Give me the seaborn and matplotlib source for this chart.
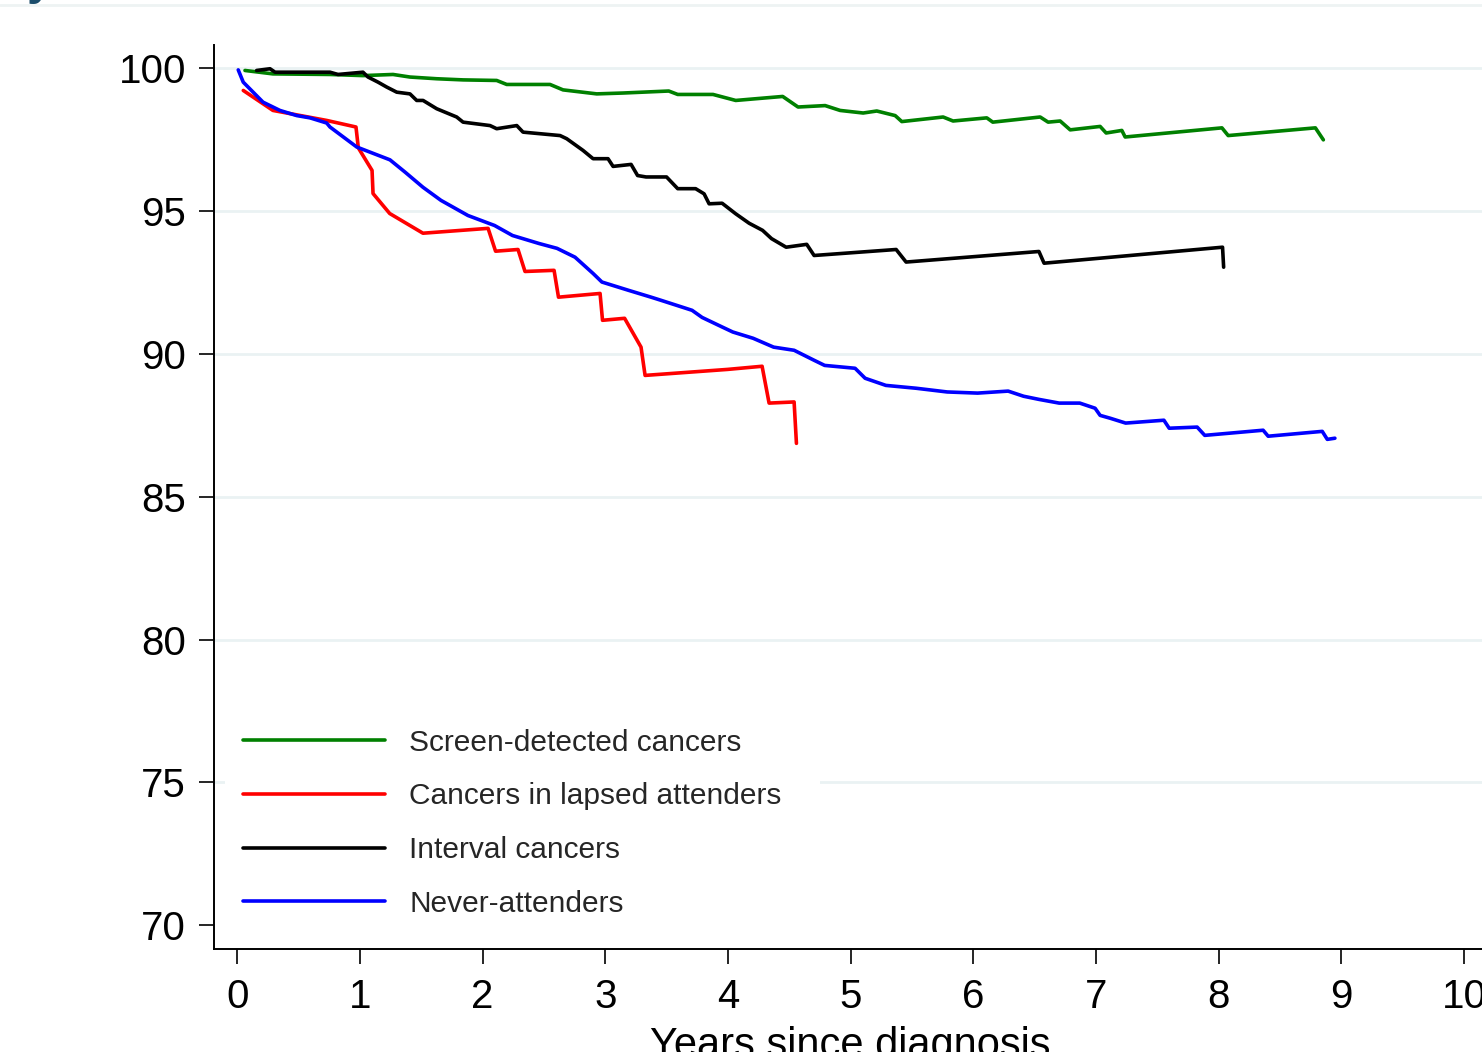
import pandas as pd
import seaborn as sns
import matplotlib.pyplot as plt
from matplotlib.lines import Line2D

# Kaplan-Meier style survival (%)
screen_t = [0.062, 0.290, 0.755, 1.024, 1.269, 1.407, 1.625, 1.840, 2.114, 2.196, 2.549, 2.655,
            2.930, 3.144, 3.517, 3.590, 3.878, 4.063, 4.446, 4.571, 4.792, 4.914, 5.102, 5.213,
            5.363, 5.417, 5.754, 5.835, 6.110, 6.159, 6.545, 6.610, 6.708, 6.790, 7.034, 7.083,
            7.211, 7.238, 8.027, 8.078, 8.789, 8.854]
screen_s = [99.93, 99.81, 99.79, 99.75, 99.79, 99.70, 99.64, 99.60, 99.58, 99.44, 99.44, 99.25,
            99.11, 99.14, 99.21, 99.09, 99.09, 98.88, 99.02, 98.65, 98.70, 98.53, 98.44, 98.51,
            98.35, 98.14, 98.30, 98.16, 98.27, 98.12, 98.30, 98.12, 98.16, 97.85, 97.97, 97.74,
            97.83, 97.60, 97.92, 97.65, 97.92, 97.50]

lapsed_t = [0.048, 0.290, 0.728, 0.967, 0.986, 1.098, 1.106, 1.242, 1.513, 2.044, 2.105, 2.288,
            2.345, 2.582, 2.618, 2.957, 2.977, 3.157, 3.291, 3.324, 3.997, 4.278, 4.335, 4.539,
            4.558]
lapsed_s = [99.23, 98.53, 98.18, 97.95, 97.22, 96.43, 95.62, 94.92, 94.23, 94.40, 93.60, 93.66,
            92.89, 92.93, 91.99, 92.12, 91.18, 91.25, 90.24, 89.25, 89.46, 89.57, 88.28, 88.32,
            86.87]

interval_t = [0.157, 0.266, 0.307, 0.755, 0.820, 1.024, 1.065, 1.147, 1.217, 1.299, 1.407, 1.462,
              1.514, 1.625, 1.788, 1.840, 2.060, 2.114, 2.278, 2.329, 2.631, 2.685, 2.818, 2.900,
              3.022, 3.063, 3.210, 3.263, 3.332, 3.499, 3.590, 3.736, 3.805, 3.846, 3.952, 4.063,
              4.172, 4.282, 4.355, 4.474, 4.642, 4.702, 5.371, 5.452, 6.535, 6.577, 8.032, 8.041]
interval_s = [99.93, 99.99, 99.87, 99.87, 99.79, 99.87, 99.70, 99.52, 99.35, 99.17, 99.11, 98.88,
              98.88, 98.59, 98.30, 98.12, 98.00, 97.89, 98.00, 97.77, 97.65, 97.54, 97.13, 96.84,
              96.84, 96.57, 96.64, 96.25, 96.20, 96.20, 95.79, 95.79, 95.61, 95.26, 95.28, 94.91,
              94.58, 94.33, 94.04, 93.74, 93.84, 93.45, 93.66, 93.22, 93.59, 93.18, 93.74, 93.04]

never_t = [0.007, 0.048, 0.209, 0.347, 0.484, 0.592, 0.728, 0.755, 0.973, 1.081, 1.244, 1.367,
           1.513, 1.660, 1.880, 2.097, 2.243, 2.459, 2.606, 2.753, 2.900, 2.972, 3.189, 3.373,
           3.454, 3.707, 3.789, 3.955, 4.039, 4.205, 4.372, 4.539, 4.702, 4.788, 5.036, 5.118,
           5.287, 5.534, 5.787, 6.035, 6.284, 6.410, 6.535, 6.700, 6.868, 6.993, 7.034, 7.116,
           7.242, 7.554, 7.597, 7.825, 7.887, 8.363, 8.404, 8.845, 8.886, 8.948]
never_s = [99.95, 99.52, 98.82, 98.53, 98.35, 98.27, 98.09, 97.95, 97.25, 97.07, 96.80, 96.37,
           95.84, 95.38, 94.85, 94.50, 94.15, 93.87, 93.70, 93.39, 92.82, 92.52, 92.23, 91.99,
           91.88, 91.53, 91.28, 90.94, 90.77, 90.55, 90.24, 90.13, 89.78, 89.60, 89.50, 89.15,
           88.90, 88.80, 88.67, 88.63, 88.70, 88.52, 88.41, 88.28, 88.28, 88.10, 87.85, 87.75,
           87.58, 87.68, 87.40, 87.44, 87.15, 87.33, 87.12, 87.29, 87.01, 87.05]

groups = ["Screen-detected cancers", "Cancers in lapsed attenders", "Interval cancers", "Never-attenders"]
colors = ["#008000", "#ff0000", "#000000", "#0000ff"]
y_ticks = [70, 75, 80, 85, 90, 95, 100]
grid_levels = [75, 80, 85, 90, 95, 100]
x_ticks = list(range(0, 11))

frames = []
for name, t, s in zip(groups, [screen_t, lapsed_t, interval_t, never_t],
                      [screen_s, lapsed_s, interval_s, never_s]):
    frames.append(pd.DataFrame({"years": t, "surv": s, "group": name}))
df = pd.concat(frames, ignore_index=True)

sns.set_theme(style="white")
plt.rcParams["font.family"] = ["Liberation Sans", "DejaVu Sans"]

fig = plt.figure(figsize=(14.82, 10.52), dpi=100)
ax = fig.add_axes([0.1442, 0.0979, 0.8585, 0.859])

# light grid, none at the bottom label
for g in grid_levels:
    ax.axhline(g, color="#eaf2f3", linewidth=2, zorder=0)

sns.lineplot(data=df, x="years", y="surv", hue="group", hue_order=groups,
             palette=dict(zip(groups, colors)), estimator=None, sort=False,
             linewidth=2.6, legend=False, ax=ax)

ax.set_xlim(-0.193, 10.18)
ax.set_ylim(69.16, 100.81)
ax.set_xticks(x_ticks)
ax.set_yticks(y_ticks)
ax.grid(False)

for side in ["top", "right"]:
    ax.spines[side].set_visible(False)
for side in ["left", "bottom"]:
    ax.spines[side].set_color("black")
    ax.spines[side].set_linewidth(1.4)

ax.tick_params(axis="both", bottom=True, left=True, direction="out", length=11,
               width=1.2, color="black", labelsize=29, labelcolor="black")
ax.tick_params(axis="y", pad=9)
ax.tick_params(axis="x", pad=10)

ax.set_xlabel("Years since diagnosis", fontsize=30, color="black", labelpad=7)
ax.set_ylabel("")

handles = [Line2D([0], [0], color=c, lw=2.6) for c in colors]
leg = ax.legend(handles, groups, loc="upper left", bbox_to_anchor=(0.1518, 0.3243, 0.4015, 0.0),
                bbox_transform=fig.transFigure, mode="expand", borderaxespad=0, fontsize=21.5,
                handlelength=4.77, handletextpad=0.8, labelspacing=0.86, borderpad=0.6,
                frameon=True, fancybox=False, facecolor="white", edgecolor="none",
                framealpha=1)

# bits of the surrounding page visible at the top
fig.add_artist(Line2D([0, 1], [1 - 5 / 1052, 1 - 5 / 1052], color="#eef3f3", lw=2,
                      transform=fig.transFigure))
fig.text(0.018, 1.0 + 6 / 1052, "y", color="#1b4d6b", fontsize=34, fontweight="bold",
         va="baseline", ha="left")

fig.savefig("out.png", dpi=100)
